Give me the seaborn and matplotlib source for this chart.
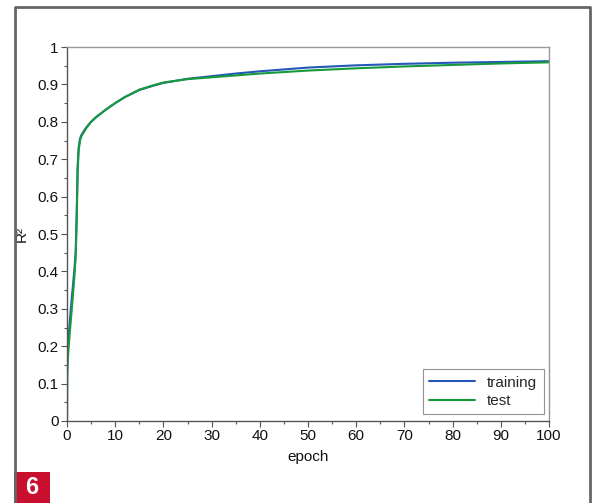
import matplotlib
matplotlib.use("Agg")
import matplotlib.pyplot as plt
from matplotlib.patches import Rectangle
from matplotlib.ticker import MultipleLocator, FuncFormatter
import seaborn as sns
import pandas as pd

epoch = [0, 0.1, 0.3, 0.6, 1.0, 1.5, 1.8, 2.0, 2.2, 2.4, 2.7, 3, 4, 5, 6, 8, 10, 12, 15, 18,
         20, 25, 30, 35, 40, 50, 60, 70, 80, 90, 100]
training = [0.12, 0.16, 0.22, 0.27, 0.33, 0.40, 0.45, 0.55, 0.68, 0.73, 0.755, 0.765, 0.785, 0.80,
            0.812, 0.832, 0.85, 0.866, 0.885, 0.897, 0.904, 0.915, 0.922, 0.929, 0.935, 0.945,
            0.951, 0.955, 0.958, 0.960, 0.962]
test = [0.0, 0.15, 0.19, 0.24, 0.30, 0.38, 0.44, 0.53, 0.66, 0.72, 0.75, 0.762, 0.783, 0.80,
        0.812, 0.832, 0.85, 0.866, 0.886, 0.898, 0.905, 0.914, 0.919, 0.924, 0.929, 0.937,
        0.943, 0.948, 0.952, 0.956, 0.959]

df = pd.DataFrame({
    "epoch": epoch * 2,
    "R2": training + test,
    "set": ["training"] * len(epoch) + ["test"] * len(epoch),
})

sns.set_style("ticks")
plt.rcParams["font.family"] = ["Liberation Sans", "DejaVu Sans"]

fig = plt.figure(figsize=(5.98, 5.03), dpi=100)
ax = fig.add_axes([67 / 598, 1 - 421 / 503, (549 - 67) / 598, (421 - 47) / 503])

sns.lineplot(data=df, x="epoch", y="R2", hue="set", ax=ax,
             palette={"training": "#2458b8", "test": "#179a3c"}, linewidth=1.5)

ax.set_xlim(0, 100)
ax.set_ylim(0, 1)
ax.xaxis.set_major_locator(MultipleLocator(10))
ax.xaxis.set_minor_locator(MultipleLocator(5))
ax.yaxis.set_major_locator(MultipleLocator(0.1))
ax.yaxis.set_minor_locator(MultipleLocator(0.05))
ax.yaxis.set_major_formatter(FuncFormatter(lambda v, p: f"{round(v, 2):g}"))
ax.tick_params(which="major", length=4, width=0.8, color="#555555", labelsize=11, pad=2,
               labelcolor="#111111")
ax.tick_params(which="minor", length=2, width=0.8, color="#555555")
for s in ["left", "bottom"]:
    ax.spines[s].set_color("#555555")
for s in ["top", "right"]:
    ax.spines[s].set_color("#999999")
for s in ax.spines.values():
    s.set_linewidth(1.0)

ax.set_xlabel("epoch", fontsize=11, labelpad=5, color="#111111")
ax.set_ylabel("R²", fontsize=11, labelpad=6, color="#111111")

leg = ax.legend(loc="lower right", fontsize=11, frameon=True, fancybox=False,
                edgecolor="#777777", handlelength=3.0, borderpad=0.4, labelspacing=0.3,
                borderaxespad=0.2, bbox_to_anchor=(0.995, 0.01))
leg.get_frame().set_linewidth(0.8)

# outer border and figure number tag
fig.add_artist(plt.Line2D([14.5 / 598, 14.5 / 598, 590 / 598, 590 / 598],
                          [0, 1 - 7 / 503, 1 - 7 / 503, 0],
                          color="#666666", linewidth=2, transform=fig.transFigure))
fig.add_artist(Rectangle((14 / 598, 0), 36 / 598, 31 / 503, transform=fig.transFigure,
                         facecolor="#c8102e", edgecolor="none"))
fig.text(32 / 598, 15 / 503, "6", color="white", fontsize=17, fontweight="bold",
         ha="center", va="center", family="Liberation Sans")

fig.savefig("out.png", dpi=100)
